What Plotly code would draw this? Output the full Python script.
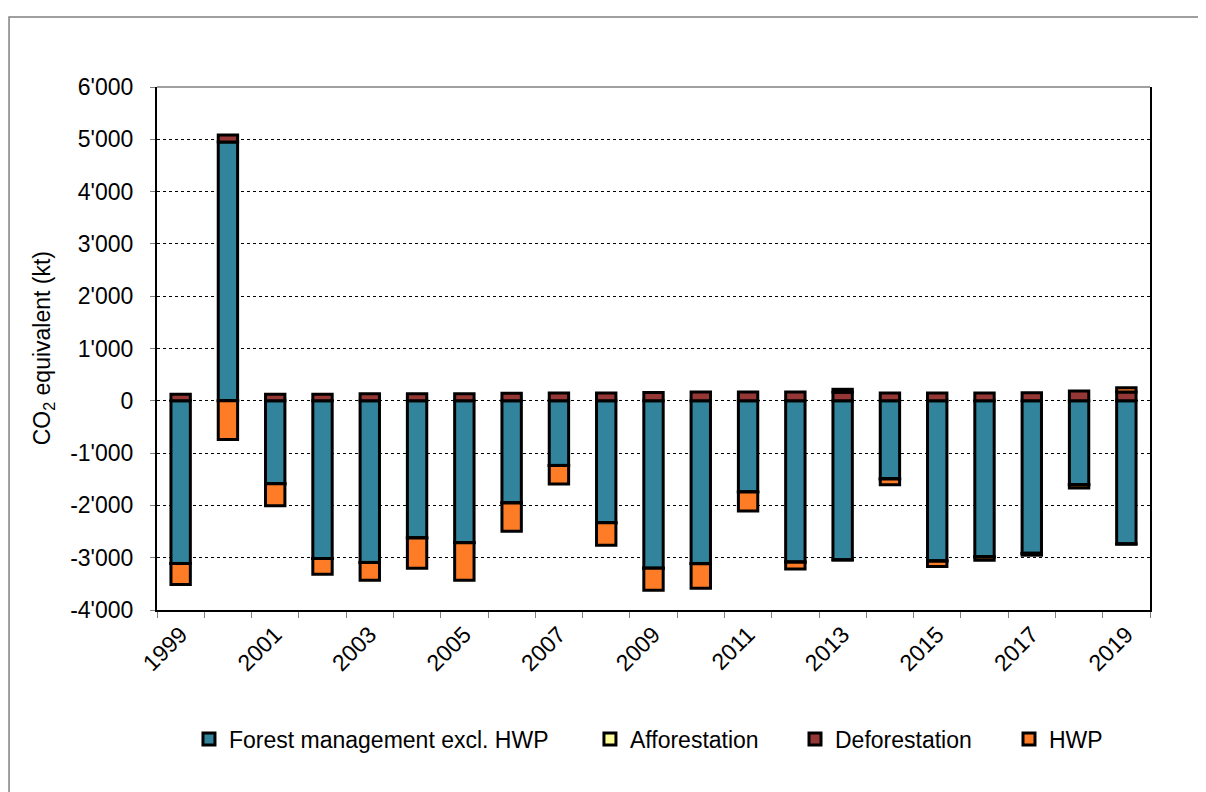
import plotly.graph_objects as go

years = list(range(1999, 2020))
forest_mgmt = [-3110, 4950, -1585, -3015, -3090, -2620, -2710, -1950, -1235, -2330,
               -3200, -3110, -1740, -3080, -3040, -1490, -3060, -2980, -2915, -1600, -2735]
afforestation = [-1, -1, -2, -2, -2, -3, -3, -3, -4, -4,
                 -4, -5, -5, -5, -6, -6, -6, -7, -7, -7, -8]
deforestation = [125, 130, 125, 125, 135, 135, 135, 145, 150, 150,
                 160, 170, 170, 170, 165, 150, 150, 150, 155, 185, 170]
hwp = [-400, -740, -420, -300, -340, -580, -720, -540, -350, -430,
       -420, -470, -360, -130, 55, -110, -100, -60, -30, -60, 80]

series_names = ["Forest management excl. HWP", "Afforestation", "Deforestation", "HWP"]
series_values = [forest_mgmt, afforestation, deforestation, hwp]
series_colors = ["#31849B", "#FFFF99", "#953735", "#FF7C26"]

x_tick_vals = list(range(1999, 2020, 2))
x_tick_text = [str(y) for y in x_tick_vals]
y_tick_vals = [-4000, -3000, -2000, -1000, 0, 1000, 2000, 3000, 4000, 5000, 6000]
y_tick_text = ["-4'000", "-3'000", "-2'000", "-1'000", "0", "1'000", "2'000",
               "3'000", "4'000", "5'000", "6'000"]

FONT = "Liberation Sans, Arial, sans-serif"
FS = 23

legend_ids = ["legend", "legend2", "legend3", "legend4"]
legend_x = [0.0322, 0.436, 0.6425, 0.858]

fig = go.Figure()
for name, vals, col, lid in zip(series_names, series_values, series_colors, legend_ids):
    fig.add_trace(go.Bar(
        x=years, y=vals, name=name, legend=lid,
        marker=dict(color=col, line=dict(color="black", width=3)),
    ))

legend_layout = {}
for lid, lx in zip(legend_ids, legend_x):
    legend_layout[lid] = dict(
        orientation="h", x=lx, xanchor="left", y=-0.2467, yanchor="middle",
        font=dict(family=FONT, size=FS, color="black"),
        bgcolor="rgba(0,0,0,0)", itemwidth=30,
    )

fig.update_layout(
    width=1198, height=784,
    barmode="relative",
    bargap=0.59,
    paper_bgcolor="white",
    plot_bgcolor="white",
    font=dict(family=FONT, size=FS, color="black"),
    margin=dict(l=149, r=56, t=79, b=182),
    showlegend=True,
    xaxis=dict(
        range=[1998.5, 2019.5],
        tickmode="array", tickvals=x_tick_vals, ticktext=x_tick_text,
        tickangle=-45, ticks="", showgrid=False, zeroline=False,
        showline=True, linecolor="black", linewidth=2,
        tickfont=dict(family=FONT, size=FS),
        minor=dict(tickmode="array", tickvals=[y - 0.5 for y in years] + [2019.5],
                   ticks="outside", ticklen=6, tickcolor="#7f7f7f", tickwidth=1,
                   showgrid=False),
    ),
    yaxis=dict(
        range=[-4000, 6000],
        tickmode="array", tickvals=y_tick_vals, ticktext=y_tick_text,
        ticks="outside", ticklen=5, tickcolor="#7f7f7f",
        showgrid=True, gridcolor="black", gridwidth=1, griddash="dot",
        zeroline=False,
        showline=True, linecolor="black", linewidth=2, mirror=True,
        tickfont=dict(family=FONT, size=FS),
        ticklabelstandoff=12,
    ),
    shapes=[
        dict(type="rect", xref="paper", yref="paper", x0=-0.149, x1=1.3, y0=-0.6, y1=1.134,
             line=dict(color="#808080", width=1.5), fillcolor="rgba(0,0,0,0)", layer="below"),
        dict(type="line", xref="paper", yref="paper", x0=0, x1=1, y0=1, y1=1,
             line=dict(color="#808080", width=1.5)),
    ],
    annotations=[
        dict(text="CO<sub>2</sub> equivalent (kt)", xref="paper", yref="paper",
             x=-0.114, y=0.5, textangle=-90, showarrow=False,
             xanchor="center", yanchor="middle",
             font=dict(family=FONT, size=FS, color="black")),
    ],
    **legend_layout,
)

fig.write_html("out.html")
